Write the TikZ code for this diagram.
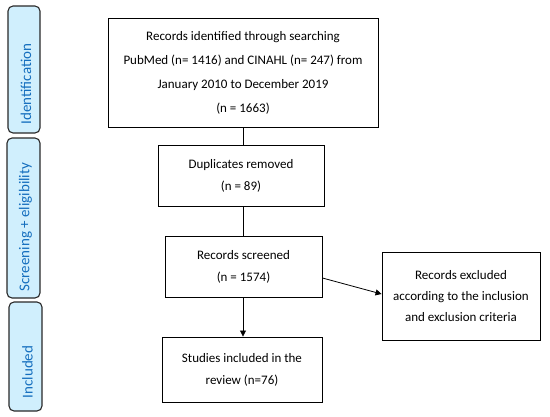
\documentclass[tikz,border=0pt]{standalone}
\usepackage{fontspec}
\setmainfont{Carlito}
\usetikzlibrary{arrows.meta}
\definecolor{sidefill}{RGB}{208,239,253}
\definecolor{sidetext}{RGB}{20,110,190}
\definecolor{sidedraw}{RGB}{40,40,40}
\begin{document}
\begin{tikzpicture}[x=1pt,y=-1pt,
  sidebox/.style={draw=sidedraw,line width=1.1pt,fill=sidefill,rounded corners=5pt},
  sidelabel/.style={text=sidetext,rotate=90,inner sep=0pt,font=\fontsize{15}{17}\selectfont},
  flowbox/.style={draw=black,line width=0.9pt,align=center,font=\fontsize{13}{22}\selectfont},
  conn/.style={line width=0.8pt},
  arr/.style={line width=0.8pt,-{Triangle[length=6pt,width=6pt]}}]
\useasboundingbox (0,0) rectangle (550,416);
% side boxes
\draw[sidebox] (8,6) rectangle (40,133);
\node[sidelabel] (s1) at (26,84) {Identification};
\draw[sidebox] (7,138) rectangle (40,298);
\node[sidelabel] (s2) at (25.5,227) {Screening + eligibility};
\draw[sidebox] (9,302) rectangle (42,411);
\node[sidelabel] (s3) at (27.5,372) {Included};
% flow boxes
\node[flowbox,minimum width=270pt,minimum height=109pt,font=\fontsize{13}{24}\selectfont] (top) at (243,72.5)
  {Records identified through searching\\PubMed (n= 1416) and CINAHL (n= 247) from\\January 2010 to December 2019\\(n = 1663)};
\node[flowbox,minimum width=166pt,minimum height=61pt] (dup) at (241,175.5)
  {Duplicates removed\\(n = 89)};
\node[flowbox,minimum width=157pt,minimum height=61pt] (scr) at (243.5,266.5)
  {Records screened\\(n = 1574)};
\node[flowbox,minimum width=158pt,minimum height=88pt,font=\fontsize{13}{21}\selectfont] (exc) at (461,296)
  {Records excluded\\according to the inclusion\\and exclusion criteria};
\node[flowbox,minimum width=160pt,minimum height=65pt] (inc) at (242,369.5)
  {Studies included in the\\review (n=76)};
% connectors
\draw[conn] (top.south -| 243,0) -- (dup.north -| 243,0);
\draw[conn] (dup.south -| 243,0) -- (scr.north -| 243,0);
\draw[arr] (scr.east |- 0,278) -- (exc.west |- 0,294);
\draw[arr] (scr.south -| 243,0) -- (inc.north -| 243,0);
\end{tikzpicture}
\end{document}
